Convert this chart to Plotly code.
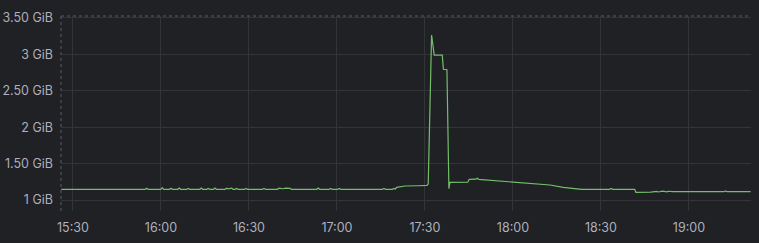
import plotly.graph_objects as go

day = "2024-01-01 "

times = [
    "15:26:00", "15:54:38", "15:55:08", "15:55:38", "15:59:56", "16:00:26", "16:00:56",
    "16:02:55", "16:03:25", "16:03:55", "16:05:44", "16:06:14", "16:06:44", "16:08:48",
    "16:09:18", "16:09:48", "16:13:14", "16:13:44", "16:14:14", "16:15:37", "16:16:07",
    "16:16:37", "16:17:54", "16:18:24", "16:18:54", "16:21:53", "16:22:23", "16:22:53",
    "16:24:06", "16:24:36", "16:25:18", "16:25:48", "16:26:18", "16:28:30", "16:29:00",
    "16:29:30", "16:34:37", "16:35:07", "16:35:37", "16:39:43", "16:40:13", "16:41:30",
    "16:42:30", "16:44:00", "16:44:30", "16:53:07", "16:53:37", "16:54:07", "16:57:20",
    "16:57:50", "16:58:20", "17:00:17", "17:00:47", "17:01:17", "17:15:31", "17:16:01",
    "17:16:31", "17:18:55", "17:19:25", "17:19:55", "17:20:21", "17:23:10", "17:27:37",
    "17:28:30", "17:30:40", "17:31:07", "17:32:16", "17:33:10", "17:35:54", "17:36:18",
    "17:37:30", "17:38:10", "17:38:31", "17:44:36", "17:45:06", "17:47:20", "17:47:50",
    "17:48:20", "17:55:34", "18:01:15", "18:06:55", "18:12:37", "18:17:09", "18:23:25",
    "18:33:00", "18:33:30", "18:34:00", "18:41:30", "18:41:55", "18:47:00", "18:49:00",
    "18:49:30", "18:51:00", "18:52:30", "18:53:00", "18:54:30", "19:12:00", "19:12:30",
    "19:13:00", "19:21:02",
]

mem_gib = [
    1.147, 1.147, 1.162, 1.147, 1.147, 1.170, 1.147,
    1.147, 1.162, 1.147, 1.147, 1.165, 1.147, 1.147,
    1.160, 1.147, 1.147, 1.165, 1.147, 1.147, 1.160,
    1.147, 1.147, 1.165, 1.147, 1.147, 1.163, 1.153,
    1.163, 1.147, 1.147, 1.160, 1.147, 1.147, 1.160,
    1.147, 1.147, 1.160, 1.147, 1.147, 1.162, 1.155,
    1.162, 1.160, 1.147, 1.147, 1.165, 1.147, 1.147,
    1.160, 1.147, 1.147, 1.160, 1.147, 1.147, 1.160,
    1.147, 1.147, 1.160, 1.152, 1.174, 1.192, 1.196,
    1.200, 1.200, 1.220, 3.266, 2.990, 2.990, 2.795,
    2.790, 1.155, 1.243, 1.245, 1.284, 1.286, 1.298,
    1.284, 1.261, 1.243, 1.234, 1.206, 1.174, 1.147,
    1.147, 1.160, 1.147, 1.147, 1.106, 1.107, 1.118,
    1.110, 1.122, 1.112, 1.120, 1.114, 1.114, 1.124,
    1.114, 1.114,
]

y_ticks = [1, 1.5, 2, 2.5, 3, 3.5]
y_tick_labels = ["1 GiB", "1.50 GiB", "2 GiB", "2.50 GiB", "3 GiB", "3.50 GiB"]

bg = "#1f2125"
grid = "#323438"
txt = "rgba(204,204,220,0.85)"

fig = go.Figure()
fig.add_trace(go.Scatter(
    x=[day + t for t in times], y=mem_gib, mode="lines",
    line=dict(color="#73BF69", width=1.2), hoverinfo="skip",
))

fig.update_layout(
    width=759, height=243,
    margin=dict(l=61, r=8, t=16, b=32, autoexpand=False),
    paper_bgcolor=bg, plot_bgcolor=bg,
    showlegend=False,
    font=dict(family="Inter", size=12.5, color=txt),
    xaxis=dict(
        type="date",
        range=[day + "15:25:55", day + "19:21:10"],
        tick0=day + "15:30:00", dtick=1800000, tickformat="%H:%M",
        showgrid=True, gridcolor=grid, gridwidth=1,
        zeroline=False, showline=False, ticks="",
        ticklabelstandoff=7, automargin=False,
    ),
    yaxis=dict(
        range=[0.849, 3.527],
        tickvals=y_ticks, ticktext=y_tick_labels,
        showgrid=True, gridcolor=grid, gridwidth=1,
        zeroline=False, showline=False, ticks="",
        ticklabelstandoff=7, automargin=False,
    ),
    shapes=[
        dict(type="line", xref="paper", yref="paper", x0=0, x1=0, y0=0, y1=1,
             line=dict(color="#5a5c62", width=1, dash="3px,3px")),
        dict(type="line", xref="paper", yref="paper", x0=0, x1=1, y0=1, y1=1,
             line=dict(color="#5a5c62", width=1, dash="3px,3px")),
    ],
)

fig.write_html("out.html")
